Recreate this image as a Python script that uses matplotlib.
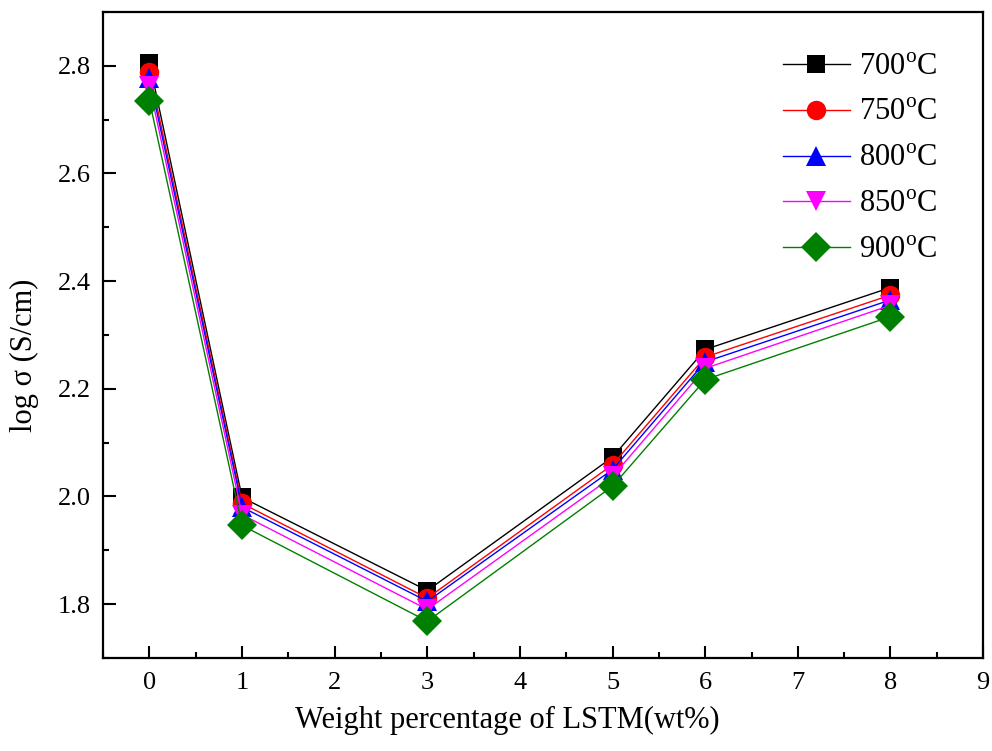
import numpy as np
import matplotlib.pyplot as plt

plt.rcParams['font.family'] = ['Liberation Serif', 'DejaVu Serif']
plt.rcParams['mathtext.fontset'] = 'custom'
plt.rcParams['mathtext.rm'] = 'Liberation Serif'

# weight percentage of LSTM
wt = [0, 1, 3, 5, 6, 8]

# log conductivity per temperature
s700 = [2.806, 1.998, 1.825, 2.073, 2.273, 2.388]
s750 = [2.789, 1.987, 1.811, 2.059, 2.259, 2.374]
s800 = [2.778, 1.980, 1.805, 2.050, 2.250, 2.365]
s850 = [2.762, 1.966, 1.790, 2.037, 2.238, 2.355]
s900 = [2.735, 1.946, 1.768, 2.019, 2.217, 2.334]

labels = ['700$^{\\mathrm{o}}$C', '750$^{\\mathrm{o}}$C', '800$^{\\mathrm{o}}$C',
          '850$^{\\mathrm{o}}$C', '900$^{\\mathrm{o}}$C']
series = [s700, s750, s800, s850, s900]
colors = ['black', 'red', 'blue', 'magenta', 'green']
markers = ['s', 'o', '^', 'v', 'D']
msizes = [13, 14, 14, 14, 15]

fig = plt.figure(figsize=(9.92, 7.51), dpi=100)
ax = fig.add_axes([0.104, 0.124, 0.887, 0.860])

for y, lab, c, m, ms in zip(series, labels, colors, markers, msizes):
    ax.plot(wt, y, color=c, marker=m, markersize=ms, linewidth=1,
            markeredgewidth=0, label=lab)

ax.set_xlim(-0.5, 9)
ax.set_ylim(1.7, 2.9)
ax.set_xticks(np.arange(0, 10, 1))
ax.set_xticks(np.arange(-0.5, 9.01, 0.5), minor=True)
ax.set_yticks([1.8, 2.0, 2.2, 2.4, 2.6, 2.8])
ax.set_yticks(np.arange(1.7, 2.91, 0.1), minor=True)
ax.tick_params(which='both', direction='in', width=1.5, labelsize=19)
ax.tick_params(which='major', length=9)
ax.tick_params(which='minor', length=4.5)
ax.tick_params(axis='x', pad=10)
ax.tick_params(axis='y', pad=9)
for sp in ax.spines.values():
    sp.set_linewidth(1.6)

ax.set_xlabel('Weight percentage of LSTM(wt%)', fontsize=22)
ax.set_ylabel('log σ (S/cm)', fontsize=22)
ax.xaxis.set_label_coords(0.459, -0.074)
ax.yaxis.set_label_coords(-0.073, 0.469)

ax.legend(loc='upper right', bbox_to_anchor=(0.962, 0.956), frameon=False,
          fontsize=22, handlelength=2.2, handletextpad=0.3,
          labelspacing=0.55, borderaxespad=0)

fig.savefig('out.png', dpi=100)
